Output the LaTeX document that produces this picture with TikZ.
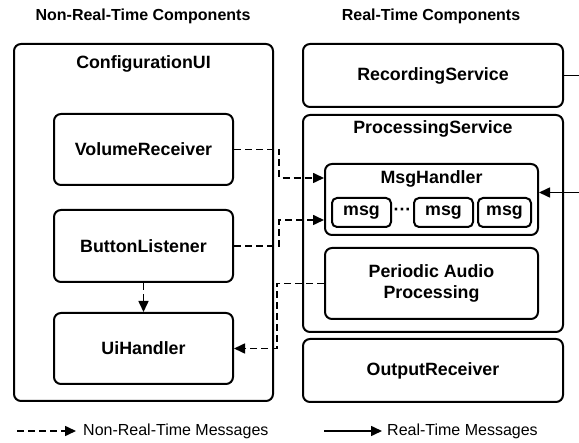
\documentclass[tikz,border=0pt]{standalone}
\usepackage{fontspec}
\setmainfont{Liberation Sans}
\usetikzlibrary{arrows.meta}

\begin{document}
\begin{tikzpicture}[x=1pt, y=-1pt,
    box/.style={draw, line width=2pt, rounded corners=7pt, inner sep=0pt, align=center, font=\fontsize{17.8}{21}\selectfont\bfseries},
    boxtitle/.style={font=\fontsize{17.8}{21}\selectfont\bfseries},
    coltitle/.style={font=\fontsize{16}{19}\selectfont\bfseries},
    legend/.style={font=\fontsize{16}{19}\selectfont, anchor=west, inner sep=0pt},
    nrt/.style={-{Triangle[length=11pt, width=10pt]}, line width=1.6pt, dash pattern=on 7pt off 4pt},
    rt/.style={-{Triangle[length=11pt, width=10pt]}, line width=1.6pt}]
  \path[use as bounding box] (0, 0) rectangle (579, 443);
  \clip (0, 0) rectangle (579, 443);

  \node[coltitle] (nrttitle) at (143, 16) {Non-Real-Time Components};
  \node[coltitle] (rttitle) at (431, 16) {Real-Time Components};

  % non-real-time side
  \node[box, minimum width=259pt, minimum height=357pt] (cfg) at (143.5, 222.5) {};
  \node[boxtitle] (cfgtitle) at (143.5, 64) {ConfigurationUI};
  \node[box, minimum width=179pt, minimum height=71pt] (vol) at (143.5, 149.5) {VolumeReceiver};
  \node[box, minimum width=179pt, minimum height=72pt] (btn) at (143.5, 246) {ButtonListener};
  \node[box, minimum width=179pt, minimum height=71pt] (ui) at (143.5, 348.5) {UiHandler};

  % real-time side
  \node[box, minimum width=260pt, minimum height=63pt] (rec) at (433, 75.5) {RecordingService};
  \node[box, minimum width=260pt, minimum height=217pt] (proc) at (433, 223.5) {};
  \node[boxtitle] (proctitle) at (433, 129) {ProcessingService};
  \node[box, minimum width=213pt, minimum height=71pt] (msgh) at (431.5, 199.5) {};
  \node[boxtitle] (msghtitle) at (431.5, 179) {MsgHandler};
  \foreach \n/\x/\w in {m1/361.5/59pt, m2/443.5/59pt, m3/504.5/53pt} {
    \node[box, rounded corners=5pt, minimum width=\w, minimum height=29pt] (\n) at (\x, 212.5) {msg};
  }
  \node[boxtitle] (dots) at (402.5, 212) {···};
  \node[box, minimum width=213pt, minimum height=71pt] (per) at (431.5, 283.5) {Periodic Audio\\Processing};
  \node[box, minimum width=260pt, minimum height=63pt] (out) at (433, 370.5) {OutputReceiver};

  \draw[nrt] (vol.east) -- ++(45, 0) |- ([yshift=21.5pt]msgh.west);
  \draw[nrt] (btn.east) -- ++(45, 0) |- ([yshift=-20.5pt]msgh.west);
  \draw[nrt] (btn.south) -- (ui.north);
  \draw[nrt] (per.west) -- ++(-47, 0) |- (ui.east);
  \draw[rt] (rec.east) -- ++(30, 0) |- ([yshift=7pt]msgh.east);

  % legend
  \coordinate (nrtA) at (17, 431);
  \coordinate (nrtB) at (76, 431);
  \draw[nrt] (nrtA) -- (nrtB);
  \node[legend] (nrtlabel) at (83, 431) {Non-Real-Time Messages};
  \coordinate (rtA) at (324, 431);
  \coordinate (rtB) at (382, 431);
  \draw[rt] (rtA) -- (rtB);
  \node[legend] (rtlabel) at (387, 431) {Real-Time Messages};
\end{tikzpicture}
\end{document}
